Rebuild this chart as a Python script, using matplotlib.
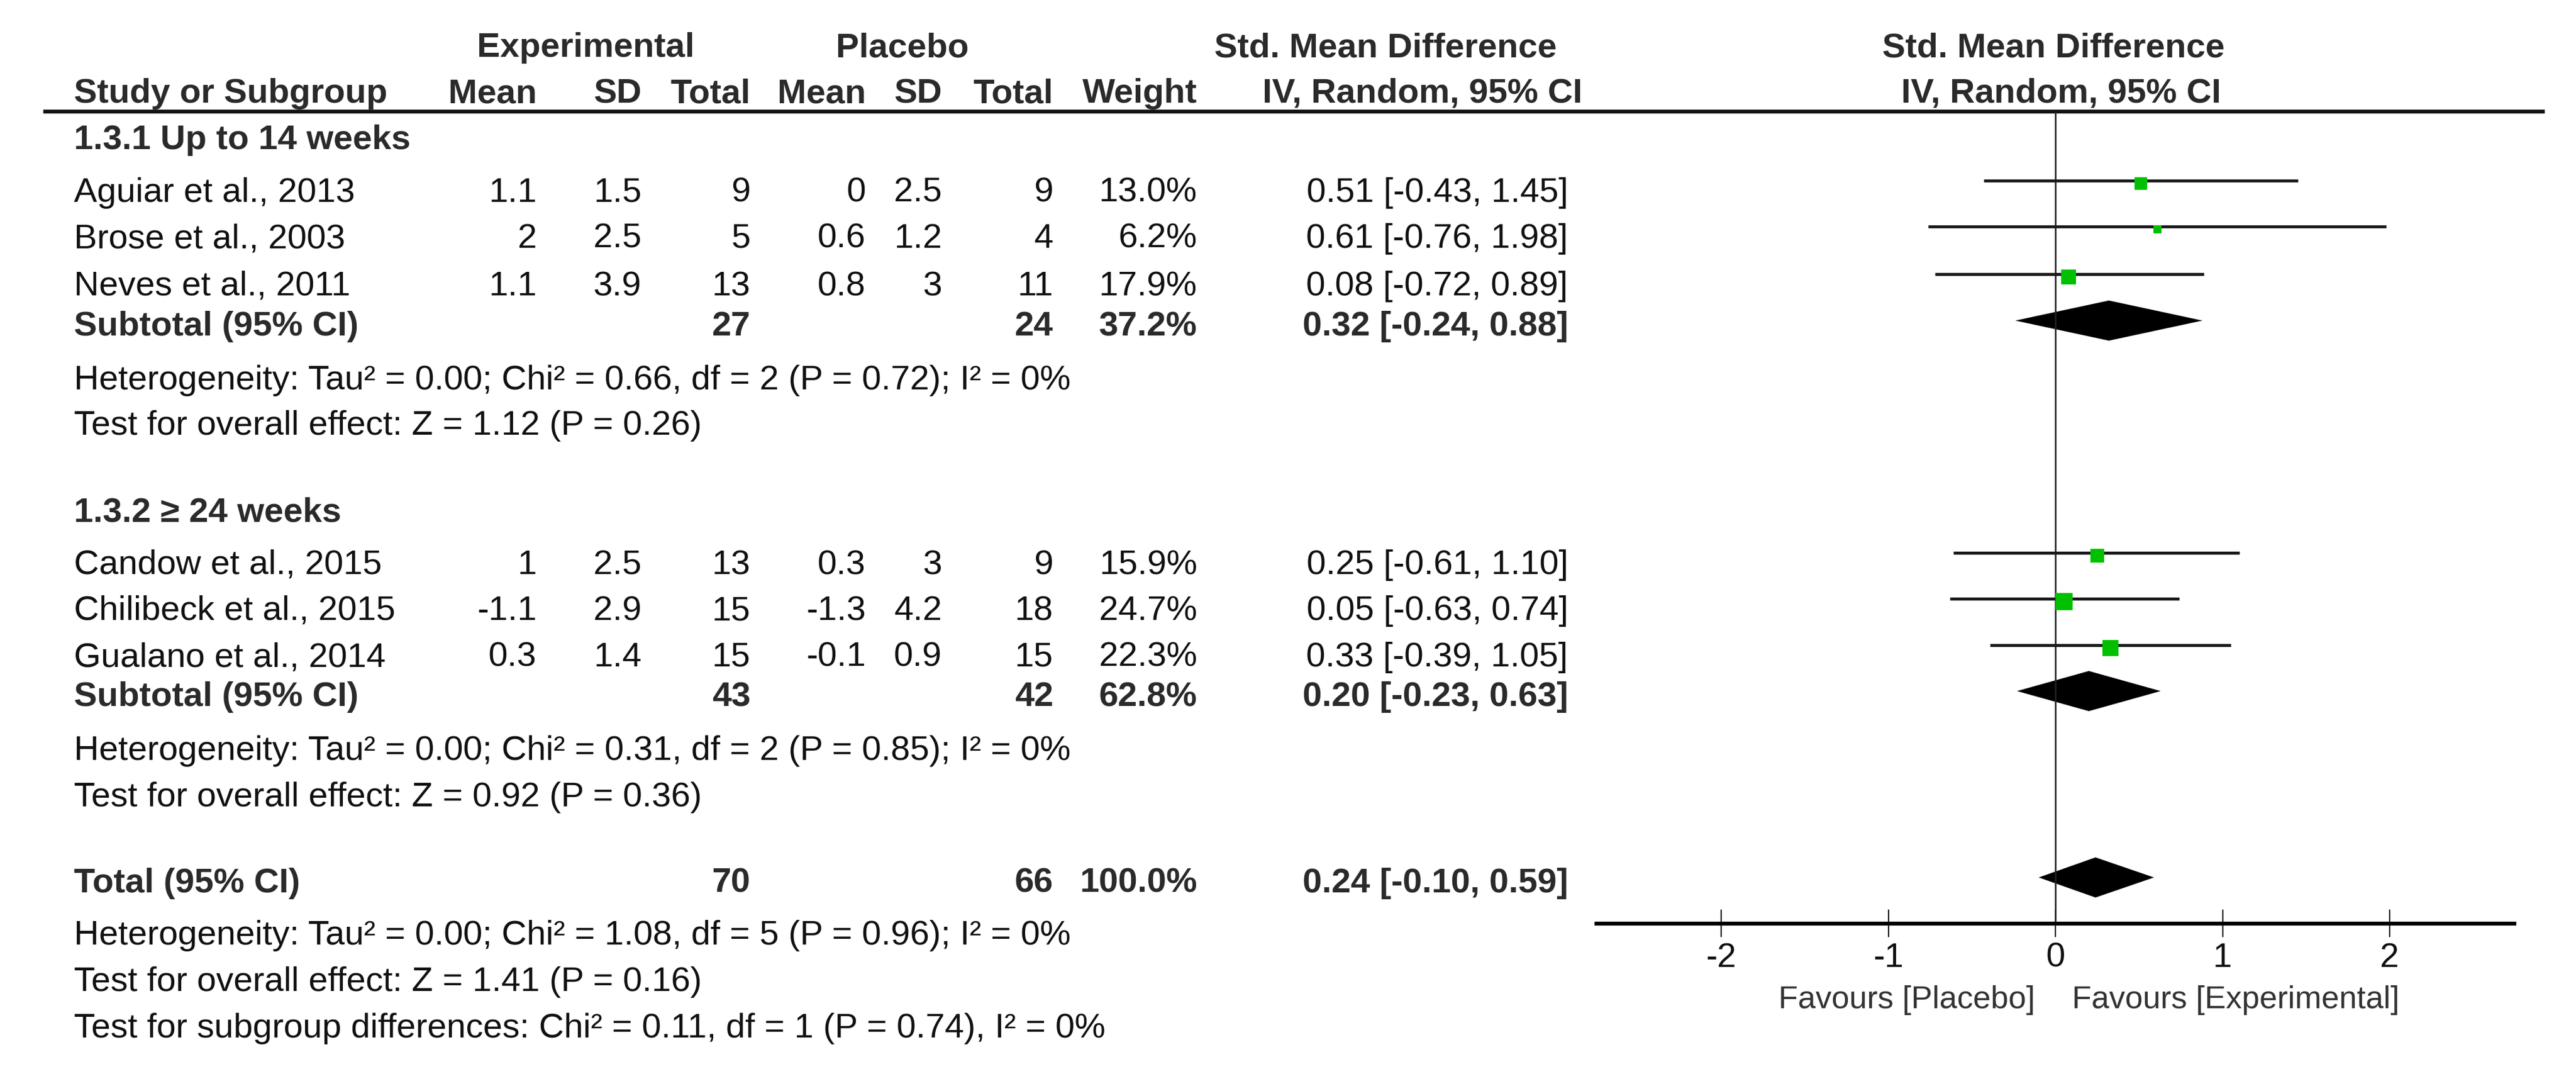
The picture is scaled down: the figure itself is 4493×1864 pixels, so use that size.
"""Forest plot: SMD, IV random effects, two duration subgroups."""

import matplotlib

matplotlib.use("Agg")
import matplotlib.pyplot as plt  # noqa: E402

plt.rcParams["font.family"] = ["Liberation Sans", "DejaVu Sans"]
plt.rcParams["axes.unicode_minus"] = False

# ---- data -----------------------------------------------------------------
studies = [
    "Aguiar et al., 2013",
    "Brose et al., 2003",
    "Neves et al., 2011",
    "Candow et al., 2015",
    "Chilibeck et al., 2015",
    "Gualano et al., 2014",
]
exp_mean = [1.1, 2, 1.1, 1, -1.1, 0.3]
exp_sd = [1.5, 2.5, 3.9, 2.5, 2.9, 1.4]
exp_n = [9, 5, 13, 13, 15, 15]
pla_mean = [0, 0.6, 0.8, 0.3, -1.3, -0.1]
pla_sd = [2.5, 1.2, 3, 3, 4.2, 0.9]
pla_n = [9, 4, 11, 9, 18, 15]
weights = [13.0, 6.2, 17.9, 15.9, 24.7, 22.3]
smd = [0.51, 0.61, 0.08, 0.25, 0.05, 0.33]
ci_lo = [-0.43, -0.76, -0.72, -0.61, -0.63, -0.39]
ci_hi = [1.45, 1.98, 0.89, 1.10, 0.74, 1.05]

subgroups = ["1.3.1 Up to 14 weeks", "1.3.2 \u2265 24 weeks"]
sub_members = [[0, 1, 2], [3, 4, 5]]
sub_exp_n = [27, 43]
sub_pla_n = [24, 42]
sub_weight = [37.2, 62.8]
sub_smd = [0.32, 0.20]
sub_lo = [-0.24, -0.23]
sub_hi = [0.88, 0.63]
sub_het = [
    "Heterogeneity: Tau\u00b2 = 0.00; Chi\u00b2 = 0.66, df = 2 (P = 0.72); I\u00b2 = 0%",
    "Heterogeneity: Tau\u00b2 = 0.00; Chi\u00b2 = 0.31, df = 2 (P = 0.85); I\u00b2 = 0%",
]
sub_test = [
    "Test for overall effect: Z = 1.12 (P = 0.26)",
    "Test for overall effect: Z = 0.92 (P = 0.36)",
]

tot_exp_n, tot_pla_n, tot_weight = 70, 66, 100.0
tot_smd, tot_lo, tot_hi = 0.24, -0.10, 0.59
tot_notes = [
    "Heterogeneity: Tau\u00b2 = 0.00; Chi\u00b2 = 1.08, df = 5 (P = 0.96); I\u00b2 = 0%",
    "Test for overall effect: Z = 1.41 (P = 0.16)",
    "Test for subgroup differences: Chi\u00b2 = 0.11, df = 1 (P = 0.74), I\u00b2 = 0%",
]
ticks = [-2, -1, 0, 1, 2]

# ---- layout (pixel rows, baselines) ---------------------------------------
W, H = 4493, 1865
study_y = [352, 432, 515, 1001, 1081, 1162]
sub_head_y = [260, 909]
sub_tot_y = [585, 1231]
sub_het_y = [679, 1325]
sub_test_y = [758, 1406]
tot_y = 1556
tot_notes_y = [1647, 1728, 1809]
head_line_y = 195
axis_y = 1611

X_NAME = 129
COLS = [936, 1119, 1309, 1510, 1643, 1837, 2088]  # right edges
X_CI = 2735
ZERO_PX, UNIT_PX = 3585, 291.5
AX_L, AX_R = 2784, 4385

FS = 43.5
BOLD = "#2a2a2a"
INK = "#111111"
GREEN = "#00c000"


def num(v):
    return f"{v:g}"


fig = plt.figure(figsize=(W / 100, H / 100), dpi=100)
ax = fig.add_axes([0, 0, 1, 1])
ax.set_xlim(0, W)
ax.set_ylim(H, 0)
ax.axis("off")

fx = fig.add_axes([AX_L / W, 0, (AX_R - AX_L) / W, 1])
fx.set_xlim((AX_L - ZERO_PX) / UNIT_PX, (AX_R - ZERO_PX) / UNIT_PX)
fx.set_ylim(H, 0)
fx.patch.set_visible(False)
for s in ("top", "left", "right"):
    fx.spines[s].set_visible(False)
fx.spines["bottom"].set_position(("data", axis_y))
fx.spines["bottom"].set_linewidth(4.8)
fx.set_yticks([])
fx.set_xticks(ticks)
fx.set_xticklabels([str(t) for t in ticks])
fx.tick_params(axis="x", direction="inout", length=34, width=1.6,
               pad=6, labelsize=43, colors=INK)


def txt(x, y, s, bold=False, ha="left", size=FS, color=None):
    ax.text(x, y, s, ha=ha, va="baseline", fontsize=size,
            fontweight="bold" if bold else "normal",
            color=color or (BOLD if bold else INK))


# header
txt(1022, 99, "Experimental", bold=True, ha="center")
txt(1574, 99, "Placebo", bold=True, ha="center")
txt(2417, 99, "Std. Mean Difference", bold=True, ha="center")
txt(3582, 99, "Std. Mean Difference", bold=True, ha="center")
txt(X_NAME, 179, "Study or Subgroup", bold=True)
for x, h in zip(COLS, ["Mean", "SD", "Total", "Mean", "SD", "Total", "Weight"]):
    txt(x, 179, h, bold=True, ha="right")
txt(2760, 179, "IV, Random, 95% CI", bold=True, ha="right")
txt(3595, 179, "IV, Random, 95% CI", bold=True, ha="center")
ax.hlines(head_line_y, 75, 4438, color="#111111", lw=4.8)

# zero line
fx.vlines(0, head_line_y, axis_y, color="#222222", lw=2)


def diamond(est, lo, hi, yc, h=70):
    fx.fill([lo, est, hi, est], [yc, yc - h / 2, yc, yc + h / 2],
            color="black", lw=0)


for g, name in enumerate(subgroups):
    txt(X_NAME, sub_head_y[g], name, bold=True)
    for i in sub_members[g]:
        y = study_y[i]
        vals = [num(exp_mean[i]), num(exp_sd[i]), num(exp_n[i]),
                num(pla_mean[i]), num(pla_sd[i]), num(pla_n[i]),
                f"{weights[i]:.1f}%"]
        txt(X_NAME, y, studies[i])
        for x, v in zip(COLS, vals):
            txt(x, y, v, ha="right")
        txt(X_CI, y, f"{smd[i]:.2f} [{ci_lo[i]:.2f}, {ci_hi[i]:.2f}]", ha="right")
        fx.hlines(y - 36, ci_lo[i], ci_hi[i], color="#1a1a1a", lw=3.8)
        side_pt = 6.0 * weights[i] ** 0.5 * 0.72
        fx.scatter([smd[i]], [y - 31], marker="s", s=side_pt ** 2,
                   color=GREEN, linewidths=0, zorder=3)
    y = sub_tot_y[g]
    txt(X_NAME, y, "Subtotal (95% CI)", bold=True)
    txt(COLS[2], y, num(sub_exp_n[g]), bold=True, ha="right")
    txt(COLS[5], y, num(sub_pla_n[g]), bold=True, ha="right")
    txt(COLS[6], y, f"{sub_weight[g]:.1f}%", bold=True, ha="right")
    txt(X_CI, y, f"{sub_smd[g]:.2f} [{sub_lo[g]:.2f}, {sub_hi[g]:.2f}]",
        bold=True, ha="right")
    diamond(sub_smd[g], sub_lo[g], sub_hi[g], y - 25)
    txt(X_NAME, sub_het_y[g], sub_het[g])
    txt(X_NAME, sub_test_y[g], sub_test[g])

# overall
txt(X_NAME, tot_y, "Total (95% CI)", bold=True)
txt(COLS[2], tot_y, num(tot_exp_n), bold=True, ha="right")
txt(COLS[5], tot_y, num(tot_pla_n), bold=True, ha="right")
txt(COLS[6], tot_y, f"{tot_weight:.1f}%", bold=True, ha="right")
txt(X_CI, tot_y, f"{tot_smd:.2f} [{tot_lo:.2f}, {tot_hi:.2f}]", bold=True, ha="right")
diamond(tot_smd, tot_lo, tot_hi, tot_y - 25)
for y, s in zip(tot_notes_y, tot_notes):
    txt(X_NAME, y, s)

txt(3549, 1758, "Favours [Placebo]", ha="right", size=40, color="#333333")
txt(3614, 1758, "Favours [Experimental]", size=40, color="#333333")

fig.savefig("out.png", dpi=100)
